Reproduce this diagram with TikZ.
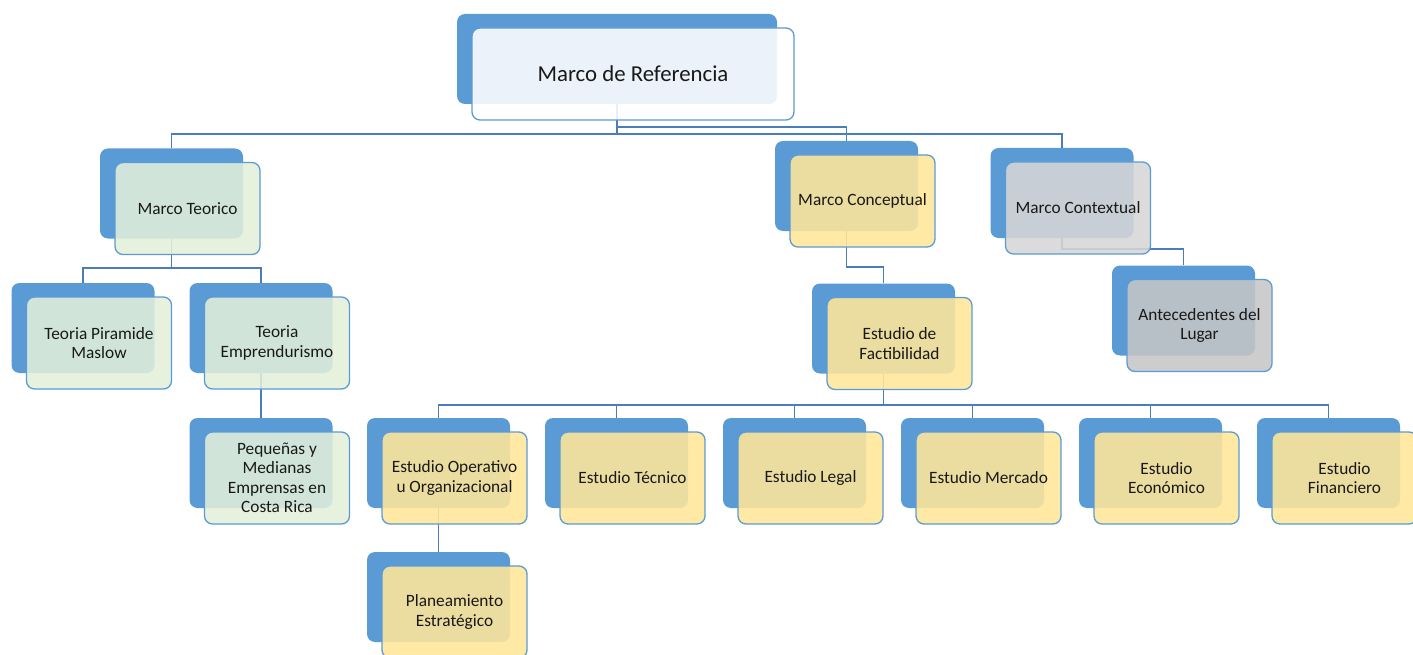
\documentclass[tikz,border=0pt]{standalone}
\usepackage{fontspec}
\setmainfont{Carlito}
\definecolor{backblue}{HTML}{5B9BD5}
\definecolor{linkblue}{HTML}{4A7EBB}
\definecolor{greenfill}{HTML}{E2EFDA}
\definecolor{goldfill}{HTML}{FFE699}
\definecolor{grayfill}{HTML}{D6D6D6}
\definecolor{darkgrayfill}{HTML}{C6C6C6}
\begin{document}
\begin{tikzpicture}
    [x=1pt, y=-1pt,
    back/.style={fill=backblue, rounded corners=8pt, minimum width=143pt, minimum height=90pt, inner sep=0pt},
    front/.style={draw=backblue, line width=1.3pt, fill opacity=0.88, text opacity=1, text=black!90,
      rounded corners=8pt, minimum width=145pt, minimum height=92pt, inner sep=0pt, align=center,
      font=\fontsize{17.3}{19.5}\selectfont},
    link/.style={draw=linkblue, line width=1.6pt}]
    \clip (0,0) rectangle (1413,655);
    % back boxes
    \node[back, minimum width=320pt] (rootB) at (617,59) {};
    \node[back] (teoB) at (171.5,193.5) {};
    \node[back] (conB) at (846.5,186) {};
    \node[back] (ctxB) at (1062,193) {};
    \node[back] (masB) at (83,328) {};
    \node[back] (empB) at (261,328) {};
    \node[back] (facB) at (883.5,328.5) {};
    \node[back] (antB) at (1183.5,310.5) {};
    \node[back] (peqB) at (261,463) {};
    \foreach \i/\x in {1/438.5, 2/616.5, 3/794.5, 4/972.5, 5/1150.5, 6/1328.5}
      \node[back] (estB\i) at (\x,463) {};
    \node[back] (plaB) at (438.5,597) {};
    % connectors
    \draw[link] (rootB.south) -- ++(0,30) -| (teoB.north);
    \draw[link] (rootB.south) -- ++(0,30) -| (ctxB.north);
    \draw[link] (rootB.south) -- ++(0,23) -| (conB.north);
    \draw[link] (teoB.south) -- ++(0,29) -| (masB.north);
    \draw[link] (teoB.south) -- ++(0,29) -| (empB.north);
    \draw[link] (empB.south) -- (peqB.north);
    \draw[link] (conB.south) -- ++(0,36) -| (facB.north);
    \draw[link] (ctxB.south) -- ++(0,11) -| (antB.north);
    \foreach \i in {1,...,6}
      \draw[link] (facB.south) -- ++(0,31) -| (estB\i.north);
    \draw[link] (estB1.south) -- (plaB.north);
    % front boxes
    \node[front, fill=white, minimum width=322pt, font=\fontsize{22.8}{26}\selectfont] (root)
      at ([shift={(16,15)}]rootB) {Marco de Referencia};
    \node[front, fill=greenfill] (teo) at ([shift={(16,15)}]teoB) {Marco Teorico};
    \node[front, fill=goldfill] (con) at ([shift={(16,15)}]conB) {Marco Conceptual};
    \node[front, fill=grayfill] (ctx) at ([shift={(16,15)}]ctxB) {Marco Contextual};
    \node[front, fill=greenfill] (mas) at ([shift={(16,15)}]masB) {Teoria Piramide\\Maslow};
    \node[front, fill=greenfill] (emp) at ([shift={(16,15)}]empB) {Teoria\\Emprendurismo};
    \node[front, fill=goldfill] (fac) at ([shift={(16,15)}]facB) {Estudio de\\Factibilidad};
    \node[front, fill=darkgrayfill] (ant) at ([shift={(16,15)}]antB) {Antecedentes del\\Lugar};
    \node[front, fill=greenfill] (peq) at ([shift={(16,15)}]peqB) {Pequeñas y\\Medianas\\Emprensas en\\Costa Rica};
    \foreach \i/\txt in {1/{Estudio Operativo\\u Organizacional}, 2/{Estudio Técnico}, 3/{Estudio Legal},
      4/{Estudio Mercado}, 5/{Estudio\\Económico}, 6/{Estudio\\Financiero}}
      \node[front, fill=goldfill] (est\i) at ([shift={(16,15)}]estB\i) {\txt};
    \node[front, fill=goldfill] (pla) at ([shift={(16,15)}]plaB) {Planeamiento\\Estratégico};
\end{tikzpicture}
\end{document}
